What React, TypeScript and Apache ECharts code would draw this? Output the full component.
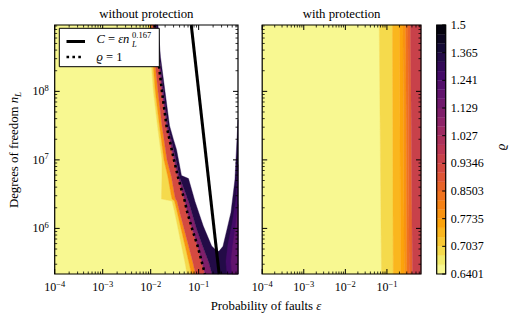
import { useEffect, useRef } from 'react';
import * as echarts from 'echarts';

const FONT = '"Liberation Serif", "DejaVu Serif", serif';

// ---- axis ranges ----
const epsRange = [1e-4, 0.66];
const nRange = [2.16e5, 9.3e8];

// ---- texts ----
const panelTitles = ['without protection', 'with protection'];
const xAxisTitle = 'Probability of faults';
const yAxisTitle = 'Degrees of freedom';
const colorbarTicks = ['0.6401', '0.7037', '0.7735', '0.8503', '0.9346', '1.027', '1.129', '1.241', '1.365', '1.5'];
const bandCount = 27;

// ---- left panel (without protection): band edges, eps read per n_L row ----
const nRows = [9.3e8, 3.16e8, 1e8, 3.16e7, 1e7, 5.62e6, 3.16e6, 2.69e6, 2.51e6, 1.78e6, 1e6, 5.62e5, 3.16e5, 2.16e5];
const epsEdge1 = [0.009, 0.01005, 0.01138, 0.01386, 0.01719, 0.01719, 0.01679, 0.01679, 0.0278, 0.0313, 0.0371, 0.0438, 0.0519, 0.0571];
const epsEdge4 = [0.00967, 0.0109, 0.01247, 0.01525, 0.01892, 0.0229, 0.0265, 0.0278, 0.0313, 0.0353, 0.0428, 0.0519, 0.0628, 0.0708];
const epsEdge8 = [0.01064, 0.012, 0.01419, 0.01719, 0.0219, 0.0271, 0.0313, 0.0329, 0.0353, 0.0398, 0.0494, 0.0613, 0.076, 0.0858];
const epsRhoOne = [0.012, 0.01419, 0.01719, 0.02134, 0.0306, 0.0371, 0.0467, 0.0499, 0.0513, 0.0571, 0.0725, 0.0944, 0.1172, 0.1352];
const epsEdge20 = [0.01289, 0.01525, 0.01849, 0.0229, 0.0337, 0.0398, 0.0544, 0.0585, 0.0613, 0.0708, 0.09, 0.12, 0.164, 0.189];
// rho = 1.5 boundary (white region beyond)
const whiteLeftEps = [0.01419, 0.016, 0.01986, 0.0247, 0.0299, 0.0346, 0.0438, 0.0613, 0.0838, 0.1247, 0.1866, 0.237];
const whiteLeftN = [9.3e8, 3.16e8, 1e8, 3.16e7, 1.97e7, 1.41e7, 5.9e6, 5.34e6, 2.47e6, 1.08e6, 5.53e5, 4.71e5];
const whiteRightEps = [0.66, 0.628, 0.57, 0.471, 0.389, 0.321, 0.265];
const whiteRightN = [3.85e7, 1.97e7, 5.16e6, 1.71e6, 9.66e5, 5.47e5, 4.63e5];
// bands on the large-eps flank
const flank24Eps = [0.66, 0.598, 0.494, 0.408, 0.37, 0.389];
const flank24N = [8.53e6, 2.64e6, 1.14e6, 5.85e5, 3.31e5, 2.16e5];
const flank21Eps = [0.66, 0.585, 0.506, 0.471, 0.494];
const flank21N = [2.23e6, 1.035e6, 5.29e5, 3.31e5, 2.16e5];
// C = eps n_L^0.167 line
const cLineEps = [0.0701, 0.267];
const cLineN = [9.3e8, 2.16e5];

// ---- right panel (with protection): vertical band edges at top / bottom ----
const protEdgeTop = [0.0653, 0.1356, 0.1998, 0.2424, 0.2831, 0.3197, 0.3673];
const protEdgeBottom = [0.0738, 0.1417, 0.2135, 0.2605, 0.3025, 0.3436, 0.41];
const protLevels = [0, 2, 4, 5, 6, 8, 9, 12];

// ---- colours (inferno, reversed for bands) ----
const INFERNO_T = [0, 0.1, 0.2, 0.3, 0.4, 0.5, 0.6, 0.7, 0.8, 0.9, 0.95, 1];
const INFERNO = ['#000004', '#160b39', '#420a68', '#6a176e', '#932667', '#bc3754', '#dd513a', '#f37819', '#fca50a', '#f6d746', '#f1ed71', '#fcffa4'];
const hexRgb = (h: string) => [1, 3, 5].map((i) => parseInt(h.slice(i, i + 2), 16));
function inferno(t: number) {
  const tt = Math.max(0, Math.min(1, t));
  let i = 0;
  while (i < INFERNO_T.length - 2 && tt > INFERNO_T[i + 1]) i++;
  const f = (tt - INFERNO_T[i]) / (INFERNO_T[i + 1] - INFERNO_T[i]);
  const a = hexRgb(INFERNO[i]);
  const b = hexRgb(INFERNO[i + 1]);
  return `rgb(${a.map((v, j) => Math.round(v + (b[j] - v) * f)).join(',')})`;
}
const bandColor = (k: number) => inferno(1 - (k + 0.5) / bandCount);

// ---- polygons ----
type Poly = { level: number; pts: number[][] };
const zip = (a: number[], b: number[]) => a.map((v, i) => [v, b[i]]);
const band = (a: number[][], b: number[][], level: number): Poly => ({ level, pts: [...a, ...b.slice().reverse()] });

function buildLeft(): Poly[] {
  const e1 = zip(epsEdge1, nRows);
  const e4 = zip(epsEdge4, nRows);
  const e8 = zip(epsEdge8, nRows);
  const e14 = zip(epsRhoOne, nRows);
  const e20 = zip(epsEdge20, nRows);
  const wl = zip(whiteLeftEps, whiteLeftN);
  const wr = zip(whiteRightEps, whiteRightN);
  const f24 = zip(flank24Eps, flank24N);
  const f21 = zip(flank21Eps, flank21N);
  return [
    { level: 0, pts: [[epsRange[0], nRange[1]], ...e1, [epsRange[0], nRange[0]]] },
    band(e1, e4, 2),
    band(e4, e8, 6),
    band(e8, e14, 11),
    band(e14, e20, 17),
    { level: 23, pts: [...e20, [epsRange[1], nRange[0]], ...wr, ...wl.slice().reverse()] },
    { level: 21, pts: [...f24, [epsRange[1], nRange[0]]] },
    { level: 19, pts: [...f21, [epsRange[1], nRange[0]]] },
  ];
}
function buildRight(): Poly[] {
  const polys: Poly[] = [];
  const edges = protEdgeTop.map((t, i) => [[t, nRange[1]], [protEdgeBottom[i], nRange[0]]]);
  const leftE = [[epsRange[0], nRange[1]], [epsRange[0], nRange[0]]];
  const rightE = [[epsRange[1], nRange[1]], [epsRange[1], nRange[0]]];
  const all = [leftE, ...edges, rightE];
  for (let i = 0; i < all.length - 1; i++) {
    polys.push({ level: protLevels[i], pts: [all[i][0], all[i + 1][0], all[i + 1][1], all[i][1]] });
  }
  return polys;
}

const polySeries = (polys: Poly[], ai: number) => ({
  type: 'custom',
  xAxisIndex: ai,
  yAxisIndex: ai,
  silent: true,
  z: 1,
  data: polys.map((p, i) => [p.pts[0][0], p.pts[0][1], i]),
  encode: { x: 0, y: 1 },
  renderItem: (_params: any, api: any) => {
    const p = polys[api.value(2)];
    const c = bandColor(p.level);
    return { type: 'polygon', shape: { points: p.pts.map((q) => api.coord(q)) }, style: { fill: c, stroke: c, lineWidth: 0.4 } };
  },
});

// tick marks (inward, all four sides) and frame
function tickData() {
  const d: number[][] = [];
  for (let e = -4; e <= 0; e++) {
    for (let k = 1; k <= 9; k++) {
      const v = k * Math.pow(10, e);
      if (v >= epsRange[0] * 0.999 && v <= epsRange[1]) d.push([v, nRange[0], 0, k === 1 ? 5 : 2.5]);
    }
  }
  for (let e = 5; e <= 8; e++) {
    for (let k = 1; k <= 9; k++) {
      const v = k * Math.pow(10, e);
      if (v >= nRange[0] && v <= nRange[1]) d.push([epsRange[0], v, 1, k === 1 ? 5 : 2.5]);
    }
  }
  d.push([epsRange[0], nRange[0], 2, 0]);
  return d;
}
const tickSeries = (ai: number) => ({
  type: 'custom',
  xAxisIndex: ai,
  yAxisIndex: ai,
  silent: true,
  z: 6,
  data: tickData(),
  encode: { x: 0, y: 1 },
  renderItem: (params: any, api: any) => {
    const cs = params.coordSys;
    const kind = api.value(2);
    const len = api.value(3);
    const lw = len > 3 ? 1 : 0.8;
    const st = { stroke: '#000', lineWidth: lw };
    const p = api.coord([api.value(0), api.value(1)]);
    if (kind === 0) {
      return {
        type: 'group',
        children: [
          { type: 'line', shape: { x1: p[0], y1: cs.y + cs.height, x2: p[0], y2: cs.y + cs.height - len }, style: st },
          { type: 'line', shape: { x1: p[0], y1: cs.y, x2: p[0], y2: cs.y + len }, style: st },
        ],
      };
    }
    if (kind === 1) {
      return {
        type: 'group',
        children: [
          { type: 'line', shape: { x1: cs.x, y1: p[1], x2: cs.x + len, y2: p[1] }, style: st },
          { type: 'line', shape: { x1: cs.x + cs.width, y1: p[1], x2: cs.x + cs.width - len, y2: p[1] }, style: st },
        ],
      };
    }
    return { type: 'rect', shape: { x: cs.x, y: cs.y, width: cs.width, height: cs.height }, style: { fill: 'none', stroke: '#000', lineWidth: 1.2 } };
  },
});

const powLabel = (v: number) => {
  const e = Math.log10(v);
  const r = Math.round(e);
  if (Math.abs(e - r) > 1e-6) return '';
  return `{b|10}{s|${r < 0 ? '\u2212' : ''}${Math.abs(r)}}`;
};
const powRich = {
  b: { fontFamily: FONT, fontSize: 12, lineHeight: 16, color: '#000' },
  s: { fontFamily: FONT, fontSize: 8.5, lineHeight: 9, verticalAlign: 'top', color: '#000' },
};

function logX(gi: number, show: boolean) {
  return {
    type: 'log', gridIndex: gi, logBase: 10, min: epsRange[0], max: epsRange[1], position: 'bottom',
    axisLine: { show: false }, axisTick: { show: false }, splitLine: { show: false }, minorTick: { show: false },
    axisLabel: { show, formatter: powLabel, rich: powRich, margin: 5, hideOverlap: false },
  };
}
function logY(gi: number, show: boolean) {
  return {
    type: 'log', gridIndex: gi, logBase: 10, min: nRange[0], max: nRange[1], position: 'left',
    axisLine: { show: false }, axisTick: { show: false }, splitLine: { show: false }, minorTick: { show: false },
    axisLabel: { show, formatter: powLabel, rich: powRich, margin: 6, hideOverlap: false },
  };
}

const textStyle = (text: string, size: number, extra: any = {}) => ({
  text, fontFamily: FONT, fontSize: size, fill: '#000', align: 'center', verticalAlign: 'middle', lineHeight: 16, ...extra,
});

function buildOption() {
  const leftPolys = buildLeft();
  const rightPolys = buildRight();
  const gridBase = { containLabel: false, outerBoundsMode: 'none', top: 25, height: 249 };
  const cbData = Array.from({ length: bandCount }, (_, k) => [0, k, k]);
  const cbTickData = colorbarTicks.map((_, i) => [1, i * 3]);
  return {
    animation: false,
    backgroundColor: '#fff',
    grid: [
      { ...gridBase, left: 54.7, width: 183.3 },
      { ...gridBase, left: 262.2, width: 158.8 },
      { ...gridBase, left: 436.7, width: 9 },
    ],
    xAxis: [
      logX(0, true),
      logX(1, true),
      { type: 'value', gridIndex: 2, min: 0, max: 1, show: false },
    ],
    yAxis: [
      logY(0, true),
      logY(1, false),
      {
        type: 'value', gridIndex: 2, min: 0, max: bandCount, interval: 3, position: 'right',
        axisLine: { show: false }, axisTick: { show: false }, splitLine: { show: false },
        axisLabel: {
          margin: 5, fontFamily: FONT, fontSize: 12, color: '#000',
          formatter: (v: number) => colorbarTicks[Math.round(v / 3)] ?? '',
        },
      },
    ],
    series: [
      polySeries(leftPolys, 0),
      {
        type: 'line', xAxisIndex: 0, yAxisIndex: 0, z: 4, silent: true, showSymbol: false, symbol: 'none',
        data: zip(epsRhoOne, nRows),
        lineStyle: { color: '#000', width: 2.6, type: [2.6, 3.3], cap: 'butt' },
      },
      {
        type: 'line', xAxisIndex: 0, yAxisIndex: 0, z: 4, silent: true, showSymbol: false, symbol: 'none',
        data: zip(cLineEps, cLineN),
        lineStyle: { color: '#000', width: 3 },
      },
      tickSeries(0),
      polySeries(rightPolys, 1),
      tickSeries(1),
      {
        type: 'custom', xAxisIndex: 2, yAxisIndex: 2, silent: true, z: 1,
        data: cbData, encode: { x: 0, y: 1 },
        renderItem: (_p: any, api: any) => {
          const k = api.value(2);
          const a = api.coord([0, k]);
          const b = api.coord([1, k + 1]);
          const c = bandColor(k);
          return { type: 'rect', shape: { x: a[0], y: b[1], width: b[0] - a[0], height: a[1] - b[1] }, style: { fill: c, stroke: c, lineWidth: 0.3 } };
        },
      },
      {
        type: 'custom', xAxisIndex: 2, yAxisIndex: 2, silent: true, z: 6,
        data: [...cbTickData, [0, 0]], encode: { x: 0, y: 1 },
        renderItem: (params: any, api: any) => {
          const cs = params.coordSys;
          if (api.value(0) === 0) {
            return { type: 'rect', shape: { x: cs.x, y: cs.y, width: cs.width, height: cs.height }, style: { fill: 'none', stroke: '#000', lineWidth: 1.2 } };
          }
          const p = api.coord([1, api.value(1)]);
          return { type: 'line', shape: { x1: p[0], y1: p[1], x2: p[0] - 3.5, y2: p[1] }, style: { stroke: '#000', lineWidth: 1 } };
        },
      },
    ],
    graphic: [
      { type: 'text', x: 146.4, y: 14, z: 100, style: textStyle(panelTitles[0], 12.8) },
      { type: 'text', x: 341.6, y: 14, z: 100, style: textStyle(panelTitles[1], 12.8) },
      {
        type: 'text', x: 266, y: 305.5, z: 100,
        style: textStyle(`${xAxisTitle} {i|ε}`, 12.8, { rich: { i: { fontFamily: FONT, fontSize: 12.8, fontStyle: 'italic', lineHeight: 16 } } }),
      },
      {
        type: 'text', x: 14, y: 150, rotation: Math.PI / 2, z: 100,
        style: textStyle(`${yAxisTitle} {i|n}{sub|L}`, 12.8, {
          rich: {
            i: { fontFamily: FONT, fontSize: 12.8, fontStyle: 'italic', lineHeight: 16 },
            sub: { fontFamily: FONT, fontSize: 9, fontStyle: 'italic', lineHeight: 9, verticalAlign: 'bottom' },
          },
        }),
      },
      { type: 'text', x: 500, y: 147, rotation: Math.PI / 2, z: 100, style: textStyle('ϱ', 13, { fontStyle: 'italic' }) },
      // legend
      { type: 'rect', z: 100, shape: { x: 59.3, y: 28.3, width: 100, height: 38.4 }, style: { fill: '#fff', stroke: '#000', lineWidth: 1 } },
      { type: 'line', z: 101, shape: { x1: 66.5, y1: 41.5, x2: 85, y2: 41.5 }, style: { stroke: '#000', lineWidth: 3 } },
      {
        type: 'text', x: 96.5, y: 38.5, z: 101,
        style: textStyle('{i|C} = {i|εn}', 12.5, { align: 'left', rich: { i: { fontFamily: FONT, fontSize: 12.5, fontStyle: 'italic', lineHeight: 16 } } }),
      },
      { type: 'text', x: 132, y: 34.5, z: 101, style: textStyle('0.167', 8.5, { align: 'left' }) },
      { type: 'text', x: 132, y: 44, z: 101, style: textStyle('L', 8.5, { align: 'left', fontStyle: 'italic' }) },
      { type: 'line', z: 101, shape: { x1: 66.5, y1: 57, x2: 81.5, y2: 57 }, style: { stroke: '#000', lineWidth: 2.6, lineDash: [2.6, 3.3] } },
      {
        type: 'text', x: 96.5, y: 57, z: 101,
        style: textStyle('{i|ϱ} = 1', 12.5, { align: 'left', rich: { i: { fontFamily: FONT, fontSize: 12.5, fontStyle: 'italic', lineHeight: 16 } } }),
      },
    ],
  };
}

export default function App() {
  const ref = useRef<HTMLDivElement>(null);
  useEffect(() => {
    const chart = echarts.init(ref.current!, null, { renderer: 'svg' });
    chart.setOption(buildOption() as any);
    return () => chart.dispose();
  }, []);
  return <div ref={ref} style={{ position: 'absolute', left: 0, top: 0, width: 510, height: 322 }} />;
}
